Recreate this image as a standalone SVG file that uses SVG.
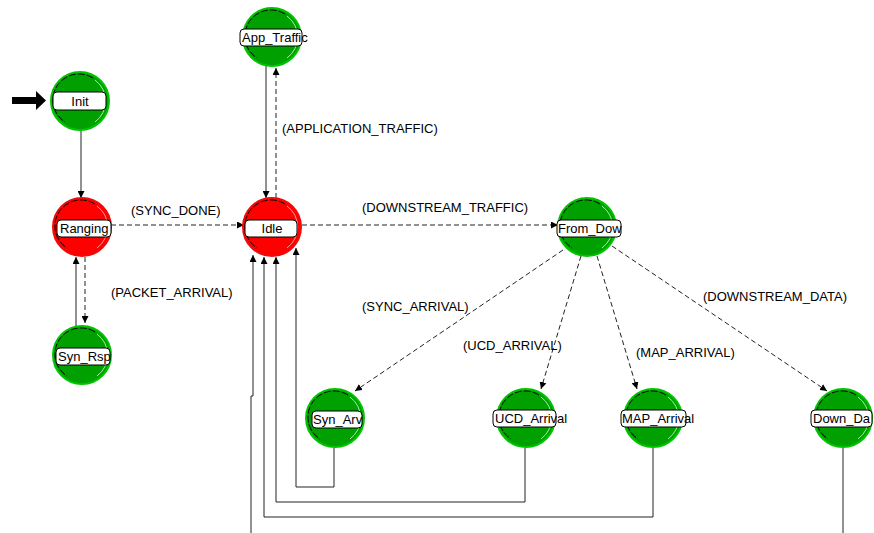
<svg xmlns="http://www.w3.org/2000/svg" xmlns:xlink="http://www.w3.org/1999/xlink" width="874" height="533" viewBox="0 0 874 533">
<style>
  .lbl { font-family: "Liberation Sans", Arial, sans-serif; font-size: 13px; fill: #000; }
  .box { fill: #fff; stroke: #000; stroke-width: 1; }
  .solid { fill: none; stroke: #222; stroke-width: 1; }
  .dash { fill: none; stroke: #222; stroke-width: 1; stroke-dasharray: 5,3; }
</style>
<defs>
  <marker id="ah" viewBox="0 0 10 10" refX="10" refY="5" markerWidth="7" markerHeight="7" markerUnits="userSpaceOnUse" orient="auto">
    <path d="M0,0 L10,5 L0,10 Z" fill="#000"/>
  </marker>
  <g id="gnode">
    <circle r="29" fill="#00a000" stroke="#00c400" stroke-width="2"/>
    <path d="M13,-23 A26,26 0 1 0 -15,21" fill="none" stroke="#000" stroke-width="1" stroke-dasharray="7,2"/>
    <path d="M15,-21 A26,26 0 0 1 15,21" fill="none" stroke="#9cf59c" stroke-width="1"/>
  </g>
  <g id="rnode">
    <circle r="29" fill="#ff0000" stroke="#f00a0a" stroke-width="2"/>
    <path d="M13,-23 A26,26 0 1 0 -15,21" fill="none" stroke="#000" stroke-width="1" stroke-dasharray="7,2"/>
    <path d="M15,-21 A26,26 0 0 1 15,21" fill="none" stroke="#ff9a9a" stroke-width="1"/>
  </g>
</defs>
<rect width="874" height="533" fill="#fff"/>

<g id="connectors">
  <!-- initial big arrow -->
  <polygon points="12,97 36,97 36,91 46,100.5 36,110 36,104 12,104" fill="#000"/>
  <!-- Init -> Ranging -->
  <line class="solid" x1="81" y1="130" x2="81" y2="198" marker-end="url(#ah)"/>
  <!-- Ranging -> Idle -->
  <line class="dash" x1="111" y1="225" x2="244" y2="225" marker-end="url(#ah)"/>
  <!-- Ranging -> Syn_Rsp -->
  <line class="dash" x1="85" y1="257" x2="85" y2="323" marker-end="url(#ah)"/>
  <!-- Syn_Rsp -> Ranging -->
  <line class="solid" x1="76" y1="326" x2="76" y2="257" marker-end="url(#ah)"/>
  <!-- App_Traffic -> Idle -->
  <line class="solid" x1="266" y1="66" x2="266" y2="198" marker-end="url(#ah)"/>
  <!-- Idle -> App_Traffic -->
  <line class="dash" x1="276" y1="198" x2="276" y2="68" marker-end="url(#ah)"/>
  <!-- Idle -> From_Down -->
  <line class="dash" x1="302" y1="225" x2="558" y2="225" marker-end="url(#ah)"/>
  <!-- From_Down -> Syn_Arv -->
  <line class="dash" x1="563" y1="250" x2="355" y2="391" marker-end="url(#ah)"/>
  <!-- From_Down -> UCD_Arrival -->
  <line class="dash" x1="581" y1="256" x2="541" y2="389" marker-end="url(#ah)"/>
  <!-- From_Down -> MAP_Arrival -->
  <line class="dash" x1="597" y1="256" x2="637" y2="389" marker-end="url(#ah)"/>
  <!-- From_Down -> Down_Data -->
  <line class="dash" x1="612" y1="246" x2="827" y2="391" marker-end="url(#ah)"/>
  <!-- returns to Idle -->
  <polyline class="solid" points="334,448 334,487 296,487 296,248" marker-end="url(#ah)"/>
  <polyline class="solid" points="525,448 525,502 276,502 276,257" marker-end="url(#ah)"/>
  <polyline class="solid" points="653,448 653,517 264,517 264,257" marker-end="url(#ah)"/>
  <polyline class="solid" points="251,533 251,396 253,396 253,255" marker-end="url(#ah)"/>
  <line class="solid" x1="843" y1="448" x2="843" y2="533"/>

  <text class="lbl" x="131" y="215">(SYNC_DONE)</text>
  <text class="lbl" x="111" y="297">(PACKET_ARRIVAL)</text>
  <text class="lbl" x="282" y="133">(APPLICATION_TRAFFIC)</text>
  <text class="lbl" x="362" y="212">(DOWNSTREAM_TRAFFIC)</text>
  <text class="lbl" x="362" y="311">(SYNC_ARRIVAL)</text>
  <text class="lbl" x="463" y="350">(UCD_ARRIVAL)</text>
  <text class="lbl" x="636" y="357">(MAP_ARRIVAL)</text>
  <text class="lbl" x="703" y="301">(DOWNSTREAM_DATA)</text>
</g>

<g id="Init">
  <use xlink:href="#gnode" x="80" y="101"/>
  <rect class="box" x="53" y="92" width="53" height="18" rx="4"/>
  <text class="lbl" x="80" y="106" text-anchor="middle">Init</text>
</g>
<g id="Ranging">
  <use xlink:href="#rnode" x="82" y="227"/>
  <rect class="box" x="57" y="220" width="54" height="17" rx="4"/>
  <text class="lbl" x="60" y="233">Ranging</text>
</g>
<g id="Syn_Rsp">
  <use xlink:href="#gnode" x="82" y="355"/>
  <rect class="box" x="56" y="348" width="54" height="17" rx="4"/>
  <text class="lbl" x="58" y="361">Syn_Rsp</text>
</g>
<g id="App_Traffic">
  <use xlink:href="#gnode" x="272" y="37"/>
  <rect class="box" x="240" y="29" width="62" height="17" rx="4"/>
  <text class="lbl" x="242" y="42">App_Traffic</text>
</g>
<g id="Idle">
  <use xlink:href="#rnode" x="272" y="227"/>
  <rect class="box" x="245" y="220" width="52" height="17" rx="4"/>
  <text class="lbl" x="272" y="233" text-anchor="middle">Idle</text>
</g>
<g id="From_Down">
  <use xlink:href="#gnode" x="587" y="227"/>
  <rect class="box" x="557" y="220" width="64" height="17" rx="4"/>
  <text class="lbl" x="558" y="233">From_Dow</text>
</g>
<g id="Syn_Arv">
  <use xlink:href="#gnode" x="335" y="418"/>
  <rect class="box" x="312" y="411" width="50" height="17" rx="4"/>
  <text class="lbl" x="313" y="424">Syn_Arv</text>
</g>
<g id="UCD_Arrival">
  <use xlink:href="#gnode" x="526" y="418"/>
  <rect class="box" x="493" y="410" width="63" height="17" rx="4"/>
  <text class="lbl" x="495" y="423">UCD_Arrival</text>
</g>
<g id="MAP_Arrival">
  <use xlink:href="#gnode" x="653" y="418"/>
  <rect class="box" x="621" y="410" width="65" height="17" rx="4"/>
  <text class="lbl" x="622" y="423">MAP_Arrival</text>
</g>
<g id="Down_Data">
  <use xlink:href="#gnode" x="843" y="418"/>
  <rect class="box" x="811" y="410" width="61" height="17" rx="4"/>
  <text class="lbl" x="813" y="423">Down_Da</text>
</g>
</svg>
